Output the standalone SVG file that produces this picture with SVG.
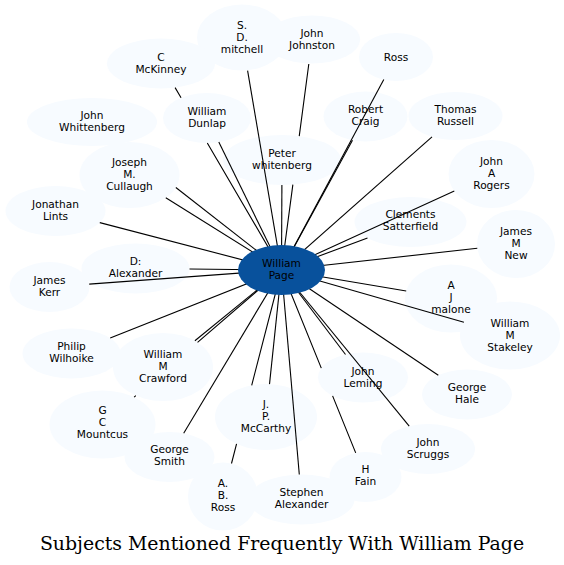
<svg xmlns="http://www.w3.org/2000/svg" width="564" height="565" viewBox="0 0 564 565">
<style>
.n ellipse{fill:#f7fbff;stroke:none}
.n text,.c text{font-family:"DejaVu Sans",Verdana,sans-serif;font-size:10.6px;fill:#000;text-anchor:middle}
#edges path{stroke:#000;stroke-width:1.1;fill:none}
#title{font-family:"DejaVu Serif",serif;font-size:18.9px;fill:#000;text-anchor:middle}
</style>
<rect width="564" height="565" fill="#fff"/>
<g id="nodes">
<g id="n_mitchell" class="n"><ellipse cx="242" cy="37.5" rx="45" ry="33"/><text x="242" y="28.5"><tspan x="242">S.</tspan><tspan x="242" dy="12">D.</tspan><tspan x="242" dy="12">mitchell</tspan></text></g>
<g id="n_johnston" class="n"><ellipse cx="312" cy="39.5" rx="48" ry="24"/><text x="312" y="37"><tspan x="312">John</tspan><tspan x="312" dy="12">Johnston</tspan></text></g>
<g id="n_ross" class="n"><ellipse cx="396" cy="57" rx="37" ry="24"/><text x="396" y="60.5">Ross</text></g>
<g id="n_mckinney" class="n"><ellipse cx="161" cy="63.5" rx="54" ry="25"/><text x="161" y="61"><tspan x="161">C</tspan><tspan x="161" dy="12">McKinney</tspan></text></g>
<g id="n_whittenberg" class="n"><ellipse cx="92" cy="122" rx="65" ry="24"/><text x="92" y="119"><tspan x="92">John</tspan><tspan x="92" dy="12">Whittenberg</tspan></text></g>
<g id="n_dunlap" class="n"><ellipse cx="207" cy="118" rx="44" ry="25"/><text x="207" y="114.5"><tspan x="207">William</tspan><tspan x="207" dy="12">Dunlap</tspan></text></g>
<g id="n_peter" class="n"><ellipse cx="282" cy="160" rx="59" ry="25"/><text x="282" y="156.7"><tspan x="282">Peter</tspan><tspan x="282" dy="12">whitenberg</tspan></text></g>
<g id="n_craig" class="n"><ellipse cx="365.5" cy="116.5" rx="42" ry="25"/><text x="365.5" y="113.3"><tspan x="365.5">Robert</tspan><tspan x="365.5" dy="12">Craig</tspan></text></g>
<g id="n_russell" class="n"><ellipse cx="455.5" cy="116" rx="47" ry="24"/><text x="455.5" y="113.3"><tspan x="455.5">Thomas</tspan><tspan x="455.5" dy="12">Russell</tspan></text></g>
<g id="n_rogers" class="n"><ellipse cx="491.5" cy="174" rx="43" ry="34"/><text x="491.5" y="165"><tspan x="491.5">John</tspan><tspan x="491.5" dy="12">A</tspan><tspan x="491.5" dy="12">Rogers</tspan></text></g>
<g id="n_cullaugh" class="n"><ellipse cx="129.5" cy="175" rx="50" ry="33"/><text x="129.5" y="165.7"><tspan x="129.5">Joseph</tspan><tspan x="129.5" dy="12">M.</tspan><tspan x="129.5" dy="12">Cullaugh</tspan></text></g>
<g id="n_lints" class="n"><ellipse cx="55.5" cy="211" rx="50" ry="25"/><text x="55.5" y="208.3"><tspan x="55.5">Jonathan</tspan><tspan x="55.5" dy="12">Lints</tspan></text></g>
<g id="n_satterfield" class="n"><ellipse cx="410.5" cy="222" rx="56" ry="25"/><text x="410.5" y="218.3"><tspan x="410.5">Clements</tspan><tspan x="410.5" dy="12">Satterfield</tspan></text></g>
<g id="n_new" class="n"><ellipse cx="516" cy="244" rx="39" ry="34"/><text x="516" y="235"><tspan x="516">James</tspan><tspan x="516" dy="12">M</tspan><tspan x="516" dy="12">New</tspan></text></g>
<g id="n_dalexander" class="n"><ellipse cx="135.5" cy="268.5" rx="54" ry="25"/><text x="135.5" y="265"><tspan x="135.5">D:</tspan><tspan x="135.5" dy="12">Alexander</tspan></text></g>
<g id="n_kerr" class="n"><ellipse cx="49.5" cy="287" rx="40" ry="25"/><text x="49.5" y="284"><tspan x="49.5">James</tspan><tspan x="49.5" dy="12">Kerr</tspan></text></g>
<g id="n_malone" class="n"><ellipse cx="451" cy="298.5" rx="46" ry="34"/><text x="451" y="289.3"><tspan x="451">A</tspan><tspan x="451" dy="12">J</tspan><tspan x="451" dy="12">malone</tspan></text></g>
<g id="n_stakeley" class="n"><ellipse cx="510" cy="335.5" rx="50" ry="34"/><text x="510" y="326.7"><tspan x="510">William</tspan><tspan x="510" dy="12">M</tspan><tspan x="510" dy="12">Stakeley</tspan></text></g>
<g id="n_wilhoike" class="n"><ellipse cx="71.5" cy="353.5" rx="49" ry="25"/><text x="71.5" y="350"><tspan x="71.5">Philip</tspan><tspan x="71.5" dy="12">Wilhoike</tspan></text></g>
<g id="n_crawford" class="n"><ellipse cx="163" cy="367" rx="50" ry="34"/><text x="163" y="358.3"><tspan x="163">William</tspan><tspan x="163" dy="12">M</tspan><tspan x="163" dy="12">Crawford</tspan></text></g>
<g id="n_mountcus" class="n"><ellipse cx="102.5" cy="424.5" rx="53" ry="34"/><text x="102.5" y="414.3"><tspan x="102.5">G</tspan><tspan x="102.5" dy="12">C</tspan><tspan x="102.5" dy="12">Mountcus</tspan></text></g>
<g id="n_mccarthy" class="n"><ellipse cx="266" cy="417" rx="51" ry="33"/><text x="266" y="408.3"><tspan x="266">J.</tspan><tspan x="266" dy="12">P.</tspan><tspan x="266" dy="12">McCarthy</tspan></text></g>
<g id="n_smith" class="n"><ellipse cx="169.5" cy="457" rx="45" ry="25"/><text x="169.5" y="453.3"><tspan x="169.5">George</tspan><tspan x="169.5" dy="12">Smith</tspan></text></g>
<g id="n_leming" class="n"><ellipse cx="363" cy="377.5" rx="45" ry="25"/><text x="363" y="374.7"><tspan x="363">John</tspan><tspan x="363" dy="12">Leming</tspan></text></g>
<g id="n_fain" class="n"><ellipse cx="365.5" cy="477" rx="36" ry="25"/><text x="365.5" y="473.3"><tspan x="365.5">H</tspan><tspan x="365.5" dy="12">Fain</tspan></text></g>
<g id="n_hale" class="n"><ellipse cx="467" cy="394.5" rx="45" ry="25"/><text x="467" y="391"><tspan x="467">George</tspan><tspan x="467" dy="12">Hale</tspan></text></g>
<g id="n_scruggs" class="n"><ellipse cx="428" cy="449" rx="47" ry="25"/><text x="428" y="445.7"><tspan x="428">John</tspan><tspan x="428" dy="12">Scruggs</tspan></text></g>
<g id="n_abross" class="n"><ellipse cx="223" cy="496.5" rx="35" ry="34"/><text x="223" y="486.7"><tspan x="223">A.</tspan><tspan x="223" dy="12">B.</tspan><tspan x="223" dy="12">Ross</tspan></text></g>
<g id="n_salexander" class="n"><ellipse cx="301.5" cy="499.5" rx="53" ry="25"/><text x="301.5" y="496"><tspan x="301.5">Stephen</tspan><tspan x="301.5" dy="12">Alexander</tspan></text></g>
</g>
<g id="edges">
<path d="M247.6 70.7L281.5 270"/>
<path d="M308.8 64L299.25 136.1M292.86 184.6L281.5 270"/>
<path d="M383.8 79.6L281.5 270"/>
<path d="M175.1 87.6L181.05 97.8M207.3 143L281.5 270"/>
<path d="M175.85 187.5L281.5 270"/>
<path d="M218.8 142.1L281.5 270"/>
<path d="M281.9 185L281.5 270"/>
<path d="M352.5 140.3L281.5 270"/>
<path d="M432 136.8L281.5 270"/>
<path d="M454.3 191L281.5 270"/>
<path d="M165.8 197.7L281.5 270"/>
<path d="M99.8 222.6L281.5 270"/>
<path d="M367.5 238L281.5 270"/>
<path d="M477.3 248.3L281.5 270"/>
<path d="M189.5 269.05L281.5 270"/>
<path d="M89.2 284.1L281.5 270"/>
<path d="M406.2 291L281.5 270"/>
<path d="M463.9 322.3L281.5 270"/>
<path d="M110.2 338.1L281.5 270"/>
<path d="M194.9 340.8L281.5 270"/>
<path d="M134.1 397.2L135.9 395.6M197.55 342.45L281.5 270"/>
<path d="M269.5 384.1L281.5 270"/>
<path d="M183.7 433.3L281.5 270"/>
<path d="M345.5 354.5L281.5 270"/>
<path d="M355.7 452.9L332.6 395.9M321.3 368.1L281.5 270"/>
<path d="M438.3 375.2L281.5 270"/>
<path d="M409.2 426.1L281.5 270"/>
<path d="M231.5 463.5L236.55 443.9M251.7 385.3L281.5 270"/>
<path d="M299.3 474.5L281.5 270"/>
</g>
<g id="n_page" class="c"><ellipse cx="281.5" cy="270" rx="43.5" ry="25" fill="#08519c"/><text x="281.5" y="267.3"><tspan x="281.5">William</tspan><tspan x="281.5" dy="12">Page</tspan></text></g>
<text id="title" x="282" y="550">Subjects Mentioned Frequently With William Page</text>
</svg>
